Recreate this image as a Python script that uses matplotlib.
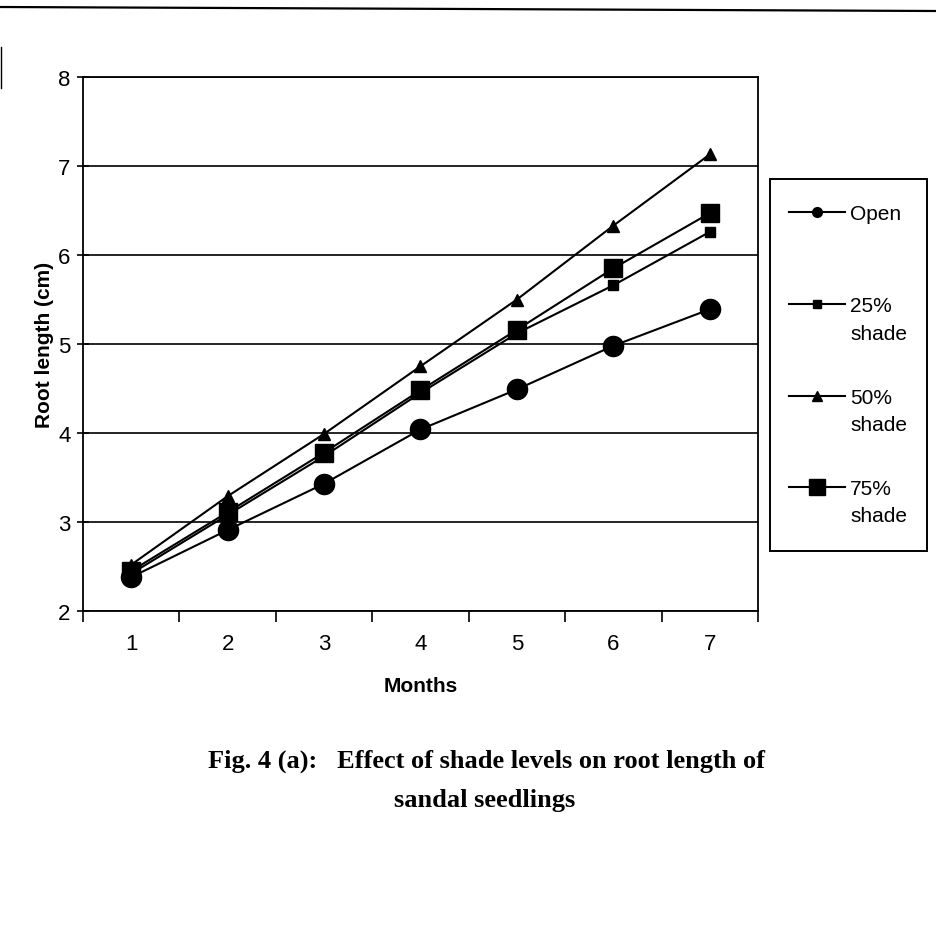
import matplotlib
matplotlib.use("Agg")
import matplotlib.pyplot as plt
from matplotlib.lines import Line2D
from matplotlib.patches import Rectangle

months = [1, 2, 3, 4, 5, 6, 7]
open_sun = [2.38, 2.91, 3.43, 4.04, 4.49, 4.98, 5.39]
shade_25 = [2.42, 3.08, 3.74, 4.45, 5.12, 5.66, 6.26]
shade_50 = [2.52, 3.29, 3.99, 4.75, 5.50, 6.33, 7.13]
shade_75 = [2.45, 3.11, 3.78, 4.48, 5.16, 5.85, 6.47]
series_labels = ["Open", "25%\nshade", "50%\nshade", "75%\nshade"]
y_ticks = [2, 3, 4, 5, 6, 7, 8]

sans = "Liberation Sans"
serif = "Liberation Serif"
W, H = 936, 929


def fx(px):
    return px / W


def fy(py):
    return 1 - py / H


fig = plt.figure(figsize=(W / 100, H / 100), dpi=100)
ax = fig.add_axes([fx(83), fy(612), fx(758) - fx(83), fy(78) - fy(612)])

# marker, size in plot, size in key
styles = [
    (open_sun, "o", 14.5, 7),
    (shade_25, "s", 7, 6),
    (shade_50, "^", 9, 7.5),
    (shade_75, "s", 12.5, 11),
]
for vals, mk, ms, _ in styles:
    ax.plot(months, vals, color="black", lw=1.5, marker=mk, ms=ms,
            mfc="black", mec="black", zorder=3)

ax.set_xlim(0.5, 7.5)
ax.set_ylim(2, 8)
ax.set_yticks(y_ticks)
ax.set_xticks(months)
ax.set_xticks([m + 0.5 for m in [0] + months], minor=True)
ax.tick_params(axis="x", which="major", length=0, pad=16, labelsize=16)
ax.tick_params(axis="x", which="minor", length=8, width=1.2, direction="out")
ax.tick_params(axis="y", which="major", length=8, width=1.2, direction="inout",
               pad=5, labelsize=16)
for lbl in ax.get_xticklabels() + ax.get_yticklabels():
    lbl.set_fontfamily(sans)
ax.yaxis.grid(True, color="black", lw=1.2)
ax.set_axisbelow(True)
for s in ax.spines.values():
    s.set_linewidth(1.3)
    s.set_color("black")

ax.set_xlabel("Months", fontfamily=sans, fontweight="bold", fontsize=15, labelpad=16)
ax.set_ylabel("Root length (cm)", fontfamily=sans, fontweight="bold", fontsize=15, labelpad=3)

# key box to the right of the plot
fig.add_artist(Rectangle((fx(770), fy(552)), fx(927) - fx(770), fy(180) - fy(552),
                         transform=fig.transFigure, fill=False, ec="black", lw=1.4))
key_rows = [213, 305, 397, 488]
for (_, mk, _, kms), lab, row in zip(styles, series_labels, key_rows):
    fig.add_artist(Line2D([fx(789), fx(845)], [fy(row), fy(row)], color="black",
                          lw=1.5, transform=fig.transFigure))
    fig.add_artist(Line2D([fx(817)], [fy(row)], color="black", marker=mk, ms=kms,
                          mfc="black", mec="black", transform=fig.transFigure))
    for i, part in enumerate(lab.split("\n")):
        fig.text(fx(850), fy(row + 27 * i), part, ha="left", va="center_baseline",
                 fontfamily=sans, fontsize=15)

fig.text(0.52, fy(761), "Fig. 4 (a):   Effect of shade levels on root length of",
         ha="center", va="center", fontfamily=serif, fontweight="bold", fontsize=19)
fig.text(0.518, fy(801), "sandal seedlings",
         ha="center", va="center", fontfamily=serif, fontweight="bold", fontsize=19)

# page rule across the top and short margin mark at the left
fig.add_artist(Line2D([0, 1], [fy(8), fy(12)], color="black", lw=1.6,
                      transform=fig.transFigure))
fig.add_artist(Line2D([fx(1), fx(1)], [fy(48), fy(89)], color="black", lw=1.0,
                      transform=fig.transFigure))

fig.savefig("out.png", dpi=100)
